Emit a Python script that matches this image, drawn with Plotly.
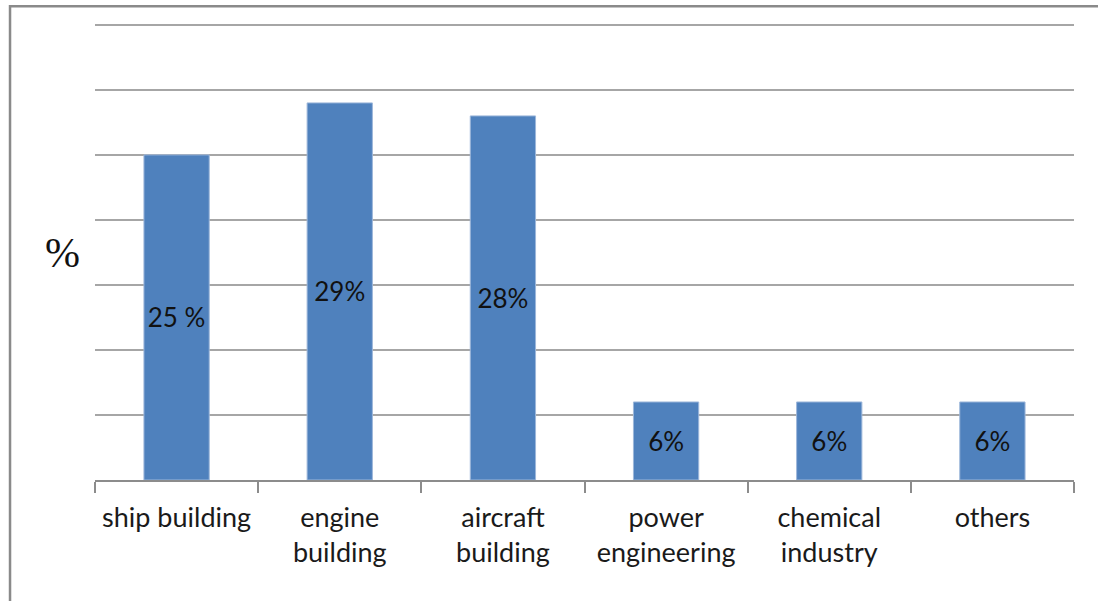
import plotly.graph_objects as go

# Share of output by industry, %
categories = ["ship building", "engine<br>building", "aircraft<br>building",
              "power<br>engineering", "chemical<br>industry", "others"]
shares = [25, 29, 28, 6, 6, 6]
share_labels = ["25 %", "29%", "28%", "6%", "6%", "6%"]

BAR_BLUE = "#4F81BD"
GRID_GREY = "#A6A6A6"
AXIS_GREY = "#8C8C8C"
TEXT_FONT = "Lato, 'Open Sans', sans-serif"

fig = go.Figure(
    go.Bar(
        x=categories,
        y=shares,
        text=share_labels,
        textposition="inside",
        insidetextanchor="middle",
        textangle=0,
        textfont=dict(family=TEXT_FONT, size=26, color="#111111"),
        marker=dict(color=BAR_BLUE, line=dict(color="#9DB7DA", width=1)),
        hoverinfo="x+y",
    )
)

fig.update_layout(
    width=1098,
    height=601,
    margin=dict(l=95, r=24, t=21, b=121),
    paper_bgcolor="white",
    plot_bgcolor="white",
    bargap=0.6,
    showlegend=False,
    font=dict(family=TEXT_FONT, size=27, color="#1a1a1a"),
    uniformtext=dict(mode=False),
)

fig.update_xaxes(
    showline=True,
    linecolor=AXIS_GREY,
    linewidth=1.5,
    ticks="outside",
    tickson="boundaries",
    ticklen=11,
    tickcolor=AXIS_GREY,
    tickwidth=1.5,
    ticklabelstandoff=13,
    tickfont=dict(family=TEXT_FONT, size=27, color="#1a1a1a"),
    showgrid=False,
)

fig.update_yaxes(
    range=[0, 35.3],
    dtick=5,
    showticklabels=False,
    showgrid=True,
    gridcolor=GRID_GREY,
    gridwidth=1.5,
    zeroline=False,
    showline=False,
    ticks="",
)

# Axis title set in a serif face, upright, to the left of the plot
fig.add_annotation(
    text="%",
    xref="paper", yref="paper",
    x=-0.0332, y=0.495,
    xanchor="center", yanchor="middle",
    showarrow=False,
    font=dict(family="Liberation Serif, 'DejaVu Serif', serif", size=42, color="#111111"),
)

# Outer chart frame (left and top edges visible)
fig.add_shape(
    type="rect",
    xref="paper", yref="paper",
    x0=-0.0868, y0=-0.6, x1=1.2, y1=1.032,
    line=dict(color="#8A8A8A", width=2.5),
    fillcolor="rgba(0,0,0,0)",
    layer="below",
)

fig.write_html("out.html")
